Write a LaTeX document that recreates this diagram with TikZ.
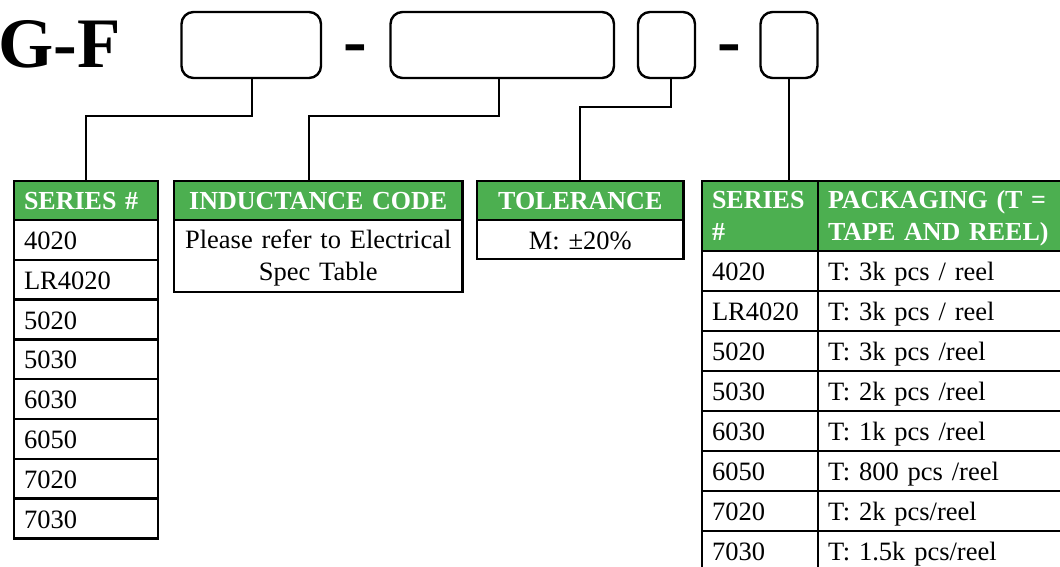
\documentclass[tikz,border=0pt]{standalone}
\usepackage{fontspec}
\setmainfont{Liberation Serif}
\usepackage{xcolor}
\usetikzlibrary{positioning,calc}
\definecolor{hdgreen}{RGB}{76,175,80}

\begin{document}
\begin{tikzpicture}[x=1pt, y=-1pt,
  slot/.style={draw, line width=2.4pt, rounded corners=12pt, minimum height=66pt, inner sep=0pt, outer sep=0pt},
  big/.style={font=\fontsize{71}{71}\selectfont\bfseries, inner sep=0pt},
  hd/.style={draw, line width=2.4pt, fill=hdgreen, text=white, font=\fontsize{26}{32}\selectfont\bfseries,
    minimum height=39pt, inner xsep=10pt, inner ysep=0pt, outer sep=0pt, anchor=north west},
  cell/.style={draw, line width=2.4pt, font=\fontsize{26.5}{32}\selectfont, minimum height=40pt,
    inner xsep=10pt, inner ysep=0pt, outer sep=0pt, text height=19pt, text depth=0pt, anchor=north west},
  link/.style={line width=2pt}]
  \useasboundingbox (0,0) rectangle (1060,566);

  % part number
  \node[big, anchor=base west] (gf) at (-2,67) {G-F};
  \node[slot, minimum width=139.5pt] (s1) at (251.25,45) {};
  \node[big, anchor=base] (d1) at (355,64.5) {-};
  \node[slot, minimum width=223.5pt] (s2) at (502.25,45) {};
  \node[slot, minimum width=57pt] (s3) at (666.5,45) {};
  \node[big, anchor=base] (d2) at (729,64.5) {-};
  \node[slot, minimum width=57pt] (s4) at (789,45) {};

  % series table
  \node[hd, text width=124pt, text height=18pt, text depth=0pt, align=left] (serhd) at (14,181) {SERIES \#};
  \foreach \s [count=\i from 0] in {4020,LR4020,5020,5030,6030,6050,7020,7030}
    \node[cell, text width=124pt, align=left, minimum height=39.8pt] (ser\i) at (14,220+39.8*\i) {\s};

  % inductance code
  \node[hd, text width=268.5pt, text height=18pt, text depth=0pt, align=center] (indhd) at (174,181) {INDUCTANCE CODE};
  \node[cell, text width=268.5pt, align=center, minimum height=72pt, text height=22pt, text depth=] (ind) at (174,220)
    {Please refer to Electrical\\Spec Table};

  % tolerance
  \node[hd, text width=186.5pt, text height=18pt, text depth=0pt, align=center] (tolhd) at (477,181) {TOLERANCE};
  \node[cell, text width=186.5pt, align=center, minimum height=39pt] (tol) at (477,220) {M: ±20\%};

  % packaging table
  \node[hd, text width=96pt, align=left, minimum height=70pt] (pkgser) at (702,181) {SERIES\\\#};
  \node[hd, text width=232pt, align=left, minimum height=70pt, text height=22pt] (pkghd) at (818,181) {PACKAGING (T =\\TAPE AND REEL)};
  \foreach \s/\p [count=\i from 0] in {4020/{T: 3k pcs / reel},LR4020/{T: 3k pcs / reel},5020/{T: 3k pcs /reel},
      5030/{T: 2k pcs /reel},6030/{T: 1k pcs /reel},6050/{T: 800 pcs /reel},7020/{T: 2k pcs/reel},7030/{T: 1.5k pcs/reel}} {
    \node[cell, text width=96pt, align=left] (pser\i) at (702,251+40*\i) {\s};
    \node[cell, text width=232pt, align=left] (pkg\i) at (818,251+40*\i) {\p};
  }

  % connectors
  \draw[link] ([xshift=1pt]s1.south) -- ++(0,38) -| (serhd.north);
  \draw[link] ([xshift=-3.5pt]s2.south) -- ++(0,38) -| ([xshift=-9pt]indhd.north);
  \draw[link] ([xshift=4.5pt]s3.south) -- ++(0,29) -| (tolhd.north);
  \draw[link] (s4.south) -- (s4.south |- pkgser.north);
\end{tikzpicture}
\end{document}
